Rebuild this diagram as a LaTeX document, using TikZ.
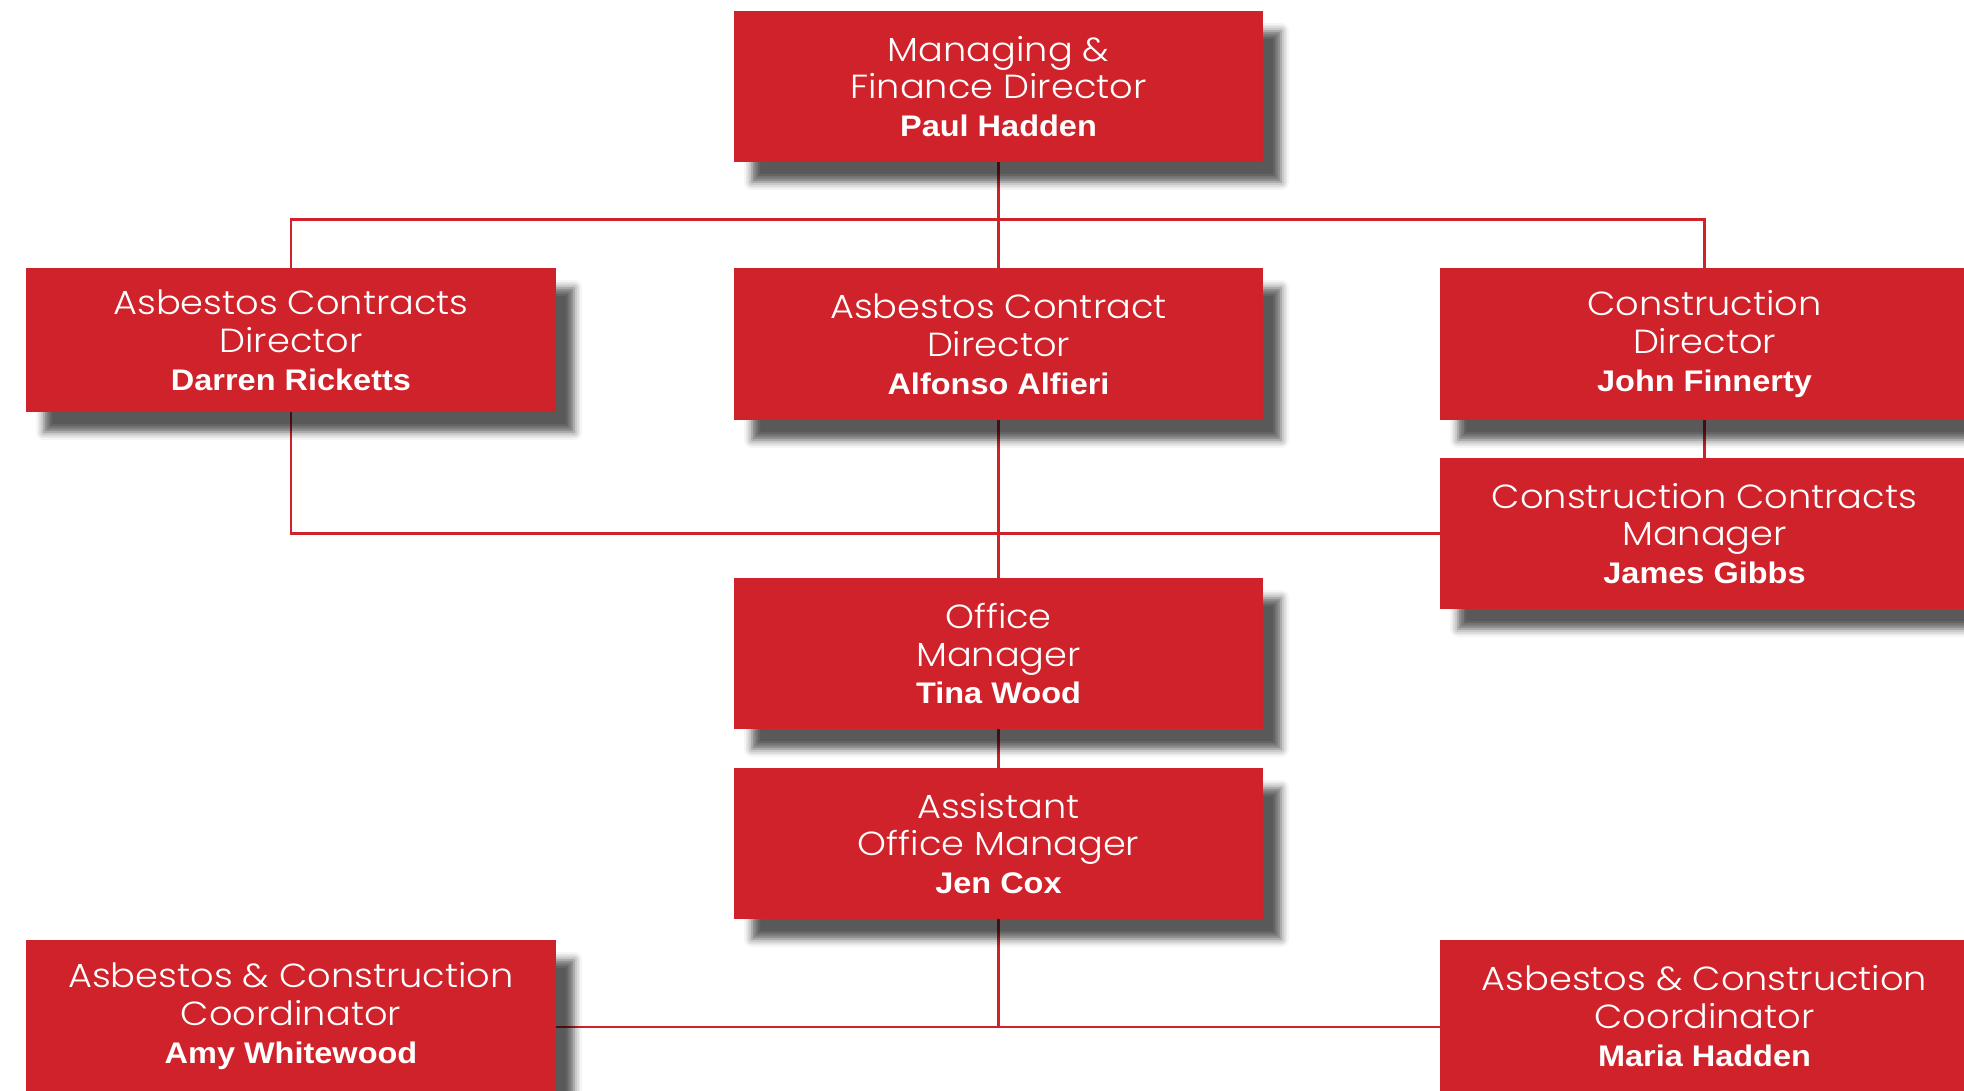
\documentclass[tikz,border=0pt]{standalone}
\usepackage{fontspec}
\usetikzlibrary{shadows.blur}
\setmainfont{Liberation Sans}
\setsansfont{Liberation Sans}[FakeStretch=1.09]
\newfontfamily\titlefont{Poppins Light}[FakeStretch=1.1]
\definecolor{boxred}{RGB}{207,34,42}
\pgfdeclarelayer{background}
\pgfsetlayers{background,main}
\newcommand\who[1]{{\sffamily\bfseries\fontsize{14.9}{18.9}\selectfont #1}}

\begin{document}
\begin{tikzpicture}[x=0.5pt,y=-0.5pt,
  box/.style={fill=boxred, text=white, align=center, inner sep=0pt,
    minimum width=264.5pt, minimum height=76pt,
    font=\titlefont\fontsize{16.7}{18.9}\selectfont,
    blur shadow={shadow xshift=9pt, shadow yshift=-10pt,
      shadow blur radius=4pt, shadow opacity=65}},
  link/.style={draw=boxred, line width=1.1pt}]
\useasboundingbox (0,0) rectangle (1964,1091);
% top
\node[box, minimum height=75.5pt] (mfd) at (998.5,86.5) {Managing \&\\Finance Director\\\who{Paul Hadden}};
% directors
\node[box, minimum width=265pt, minimum height=72pt] (acdl) at (291,340) {Asbestos Contracts\\Director\\\who{Darren Ricketts}};
\node[box] (acdm) at (998.5,344) {Asbestos Contract\\Director\\\who{Alfonso Alfieri}};
\node[box] (cd) at (1704.5,344) {Construction\\Director\\\who{John Finnerty}};
\node[box, minimum height=75.5pt] (ccm) at (1704.5,533.5) {Construction Contracts\\Manager\\\who{James Gibbs}};
% office
\node[box, minimum height=75.5pt] (om) at (998.5,653.5) {Office\\Manager\\\who{Tina Wood}};
\node[box, minimum height=75.5pt] (aom) at (998.5,843.5) {Assistant\\Office Manager\\\who{Jen Cox}};
% coordinators
\node[box, minimum width=265pt] (accl) at (291,1016) {Asbestos \& Construction\\Coordinator\\\who{Amy Whitewood}};
\node[box] (accr) at (1704.5,1016) {Asbestos \& Construction\\Coordinator\\\who{Maria Hadden}};
\coordinate (tbar) at (998.5,219.5);
\coordinate (bbar) at (998.5,1027);
\begin{pgfonlayer}{background}
\draw[link] (mfd.south) -- (acdm.north);
\draw[link] (acdl.north) |- (tbar) -| (cd.north);
\draw[link] (acdl.south) |- (ccm.west);
\draw[link] (acdm.south) -- (om.north);
\draw[link] (cd.south) -- (ccm.north);
\draw[link] (om.south) -- (aom.north);
\draw[link] (aom.south) -- (bbar);
\draw[link] (accl.east |- bbar) -- (accr.west |- bbar);
\end{pgfonlayer}
\end{tikzpicture}
\end{document}
